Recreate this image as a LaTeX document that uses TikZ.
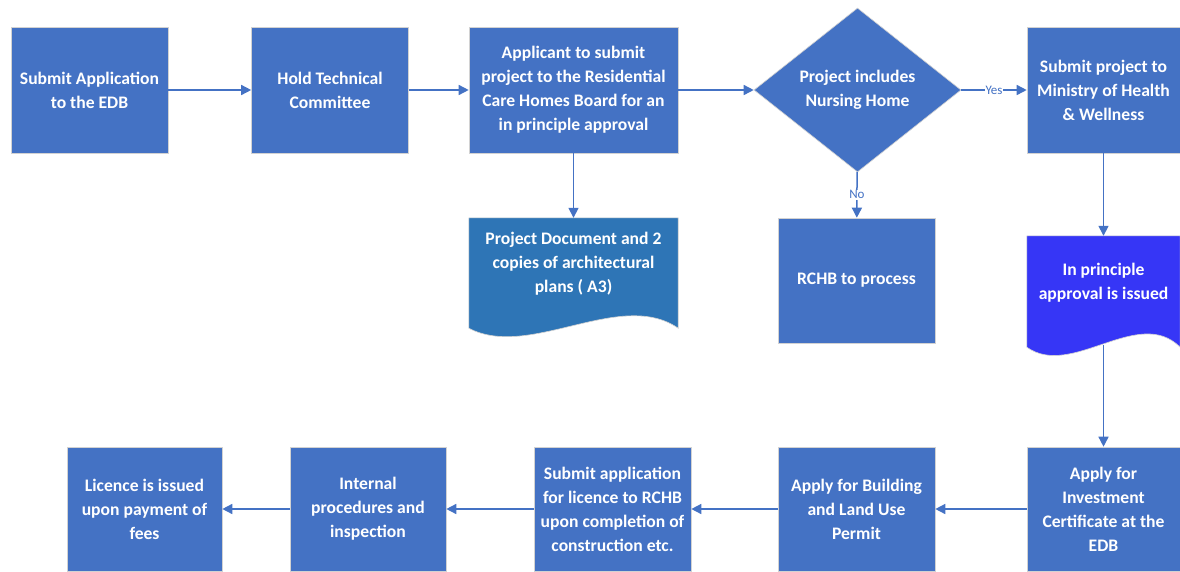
\documentclass[tikz,border=0pt]{standalone}
\usepackage{fontspec}
\setmainfont{Carlito}
\usetikzlibrary{shapes.geometric,arrows.meta,backgrounds}
\definecolor{boxblue}{HTML}{4472C4}
\definecolor{docblue}{HTML}{2E75B6}
\definecolor{brightblue}{HTML}{3636F6}
\begin{document}
\begin{tikzpicture}[x=1pt,y=-1pt]

% Fix the frame of the whole chart
\useasboundingbox (0,0) rectangle (1180,571);

% Define styles for steps, the decision and documents
\tikzstyle{task} = [rectangle, fill=boxblue, draw=gray!35, line width=0.6pt, text=white, font=\bfseries\fontsize{17.6}{24}\selectfont, align=center, minimum width=157pt, minimum height=126pt, inner sep=2pt]
\tikzstyle{choice} = [diamond, aspect=1.26, fill=boxblue, draw=gray!35, line width=0.6pt, text=white, font=\bfseries\fontsize{17.6}{24}\selectfont, align=center, minimum width=207pt, minimum height=164pt, inner sep=0pt]
\tikzstyle{paper} = [rectangle, text=white, font=\bfseries\fontsize{17.6}{24}\selectfont, align=center, inner sep=0pt]

%Define arrows and the yes/no labels on them
\tikzstyle{link} = [draw=boxblue, line width=1.5pt, -{Triangle[length=10pt,width=10pt]}]
\tikzstyle{answer} = [fill=white, text=boxblue, font=\fontsize{13}{15}\selectfont, inner sep=1pt]

% Top row
\node[task] (submit) at (89.5,90) {Submit Application\\to the EDB};
\node[task] (hold) at (330,90) {Hold Technical\\Committee};
\node[task, minimum width=209pt] (applicant) at (573.5,90) {Applicant to submit\\project to the Residential\\Care Homes Board for an\\in principle approval};
\node[choice] (nursing) at (857.5,90) {Project includes\\Nursing Home};
\node[task, minimum width=153pt] (ministry) at (1103.5,90) {Submit project to\\Ministry of Health\\\& Wellness};

% Middle row
\node[paper, minimum width=209pt, minimum height=92pt] (plans) at (573.5,264) {Project Document and 2\\copies of architectural\\plans ( A3)};
\node[task, minimum height=125pt] (rchb) at (856.5,280.5) {RCHB to process};
\node[paper, minimum width=153pt, minimum height=93pt] (issued) at (1103.5,282.5) {In principle\\approval is issued};

% Bottom row
\node[task, minimum width=153pt, minimum height=124pt] (investment) at (1103.5,509) {Apply for\\Investment\\Certificate at the\\EDB};
\node[task, minimum height=124pt] (building) at (856.5,509) {Apply for Building\\and Land Use\\Permit};
\node[task, minimum height=124pt] (licensing) at (612.5,509) {Submit application\\for licence to RCHB\\upon completion of\\construction etc.};
\node[task, minimum width=156pt, minimum height=124pt] (internal) at (368,509) {Internal\\procedures and\\inspection};
\node[task, minimum width=155pt, minimum height=124pt] (licence) at (144.5,509) {Licence is issued\\upon payment of\\fees};

% Wavy document shapes behind their texts
\begin{scope}[on background layer]
\filldraw[fill=docblue, draw=gray!35, line width=0.6pt] (plans.north west) -- (plans.north east) -- ([yshift=-18pt]plans.south east)
	.. controls ([xshift=-58pt,yshift=22pt]plans.south east) and ([xshift=61pt,yshift=-50pt]plans.south west) .. ([yshift=-18pt]plans.south west) -- cycle;
\filldraw[fill=brightblue, draw=gray!35, line width=0.6pt] (issued.north west) -- (issued.north east) -- ([yshift=-18pt]issued.south east)
	.. controls ([xshift=-42pt,yshift=24pt]issued.south east) and ([xshift=45pt,yshift=-50pt]issued.south west) .. ([yshift=-18pt]issued.south west) -- cycle;
\end{scope}
\coordinate (wave) at ([yshift=-16pt]issued.south);

% Connectors
\draw[link] (submit) -- (hold);
\draw[link] (hold) -- (applicant);
\draw[link] (applicant) -- (nursing);
\draw[link] (nursing) -- node[answer]{Yes} (ministry);
\draw[link] (nursing) -- node[answer]{No} (rchb);
\draw[link] (applicant) -- (plans);
\draw[link] (ministry) -- (issued);
\draw[link] (wave) -- (investment);
\draw[link] (investment) -- (building);
\draw[link] (building) -- (licensing);
\draw[link] (licensing) -- (internal);
\draw[link] (internal) -- (licence);

\end{tikzpicture}
\end{document}
